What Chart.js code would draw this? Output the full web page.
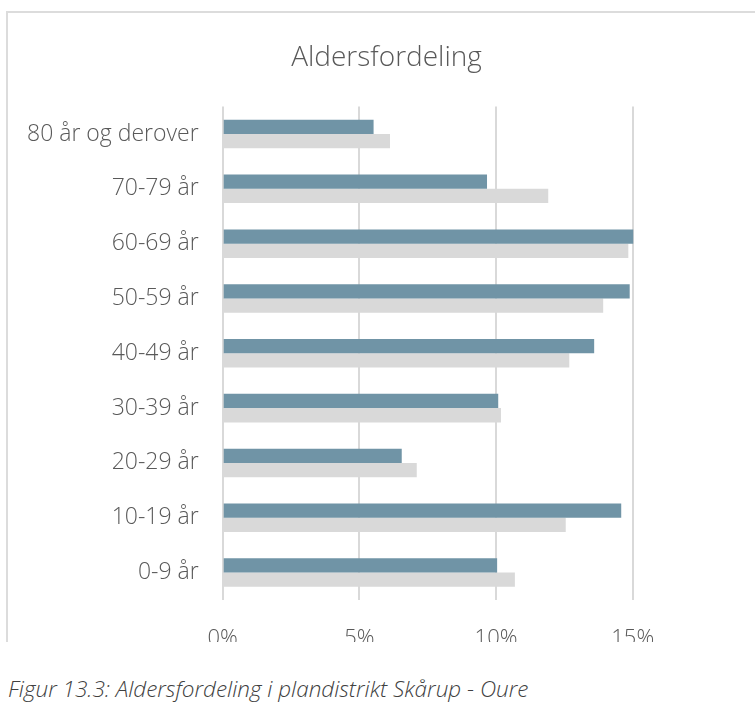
<!DOCTYPE html>
<html>
<head>
<meta charset="utf-8">
<script src="https://cdn.jsdelivr.net/npm/chart.js@4.4.1/dist/chart.umd.min.js"></script>
<style>
  html, body { margin: 0; padding: 0; background: #fff; overflow: hidden; width: 755px; height: 724px; }
  #clip { position: absolute; left: 0; top: 0; width: 755px; height: 642px; overflow: hidden; }
  #frame { position: absolute; left: 6px; top: 11px; border-top: 2px solid #dcdcdc; border-left: 2px solid #dcdcdc; width: 757px; height: 680px; }
  #frame canvas { display: block; }
  #caption { position: absolute; left: 8px; top: 673px; font-family: "Open Sans", "Segoe UI", sans-serif; font-style: italic; font-weight: 300; font-size: 22.5px; color: #404040; white-space: nowrap; }
</style>
</head>
<body>
<div id="clip"><div id="frame"><canvas id="c" width="757" height="680"></canvas></div></div>
<div id="caption">Figur 13.3: Aldersfordeling i plandistrikt Skårup - Oure</div>
<script>
const categories = ["80 år og derover", "70-79 år", "60-69 år", "50-59 år", "40-49 år", "30-39 år", "20-29 år", "10-19 år", "0-9 år"];
const seriesDark  = [5.52, 9.67, 15.02, 14.89, 13.59, 10.08, 6.55, 14.58, 10.04];
const seriesLight = [6.12, 11.91, 14.84, 13.92, 12.68, 10.18, 7.10, 12.55, 10.69];
const tickValues = [0, 5, 10, 15];
const chartTitle = "Aldersfordeling";

const fontFam = '"Open Sans", "Segoe UI", sans-serif';
new Chart(document.getElementById('c'), {
  type: 'bar',
  data: {
    labels: categories,
    datasets: [
      { label: 'Plandistrikt', data: seriesDark, backgroundColor: '#7094a6', borderWidth: 0 },
      { label: 'Kommune', data: seriesLight, backgroundColor: '#d9d9d9', borderWidth: 0 }
    ]
  },
  options: {
    indexAxis: 'y',
    responsive: false,
    animation: false,
    devicePixelRatio: 1,
    datasets: { bar: { categoryPercentage: 0.52, barPercentage: 1.0 } },
    layout: { padding: { left: 0, right: 0, top: 0, bottom: 0 } },
    plugins: {
      legend: { display: false },
      tooltip: { enabled: false },
      title: {
        display: true, text: chartTitle, color: '#595959',
        font: { family: fontFam, size: 28, weight: '300' },
        padding: { top: 28, bottom: 32 }
      }
    },
    scales: {
      x: {
        min: 0, max: 19.84,
        afterBuildTicks: (s) => { s.ticks = tickValues.map(v => ({ value: v })); },
        afterFit: (s) => { s.height = 93; },
        grid: { color: '#d9d9d9', lineWidth: 2, drawTicks: false },
        border: { display: false },
        ticks: {
          padding: 26, color: '#595959',
          font: { family: fontFam, size: 22, weight: '300' },
          callback: (v) => v + '%'
        }
      },
      y: {
        afterFit: (s) => { s.width = 214.7; },
        grid: { display: false, drawTicks: false },
        border: { display: false },
        ticks: {
          padding: 24, color: '#595959',
          font: { family: fontFam, size: 23, weight: '300' }
        }
      }
    }
  }
});
</script>
</body>
</html>
